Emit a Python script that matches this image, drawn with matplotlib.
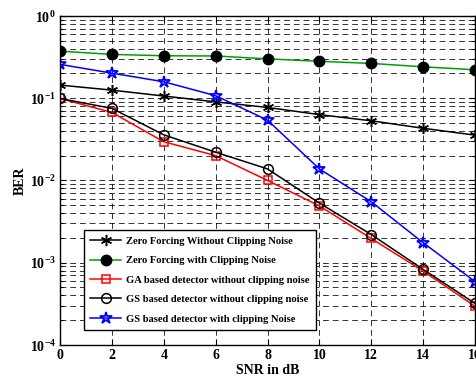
import matplotlib
matplotlib.use('agg')
import matplotlib.pyplot as plt
import numpy as np

plt.rcParams['font.family'] = 'Liberation Serif'
plt.rcParams['font.weight'] = 'bold'
plt.rcParams['mathtext.fontset'] = 'custom'
plt.rcParams['mathtext.rm'] = 'Liberation Serif:bold'
plt.rcParams['mathtext.bf'] = 'Liberation Serif:bold'

snr = [0, 2, 4, 6, 8, 10, 12, 14, 16]
zf_no_clip = [0.144, 0.125, 0.106, 0.090, 0.077, 0.063, 0.053, 0.043, 0.0355]
zf_clip = [0.372, 0.340, 0.327, 0.325, 0.300, 0.280, 0.264, 0.240, 0.221]
ga_no_clip = [0.099, 0.067, 0.0295, 0.020, 0.0100, 0.0049, 0.00197, 0.00079, 0.000296]
gs_no_clip = [0.099, 0.075, 0.0358, 0.022, 0.0138, 0.0053, 0.0022, 0.00083, 0.00032]
gs_clip = [0.257, 0.201, 0.158, 0.107, 0.054, 0.0138, 0.0055, 0.00175, 0.00059]

fig = plt.figure(figsize=(4.77, 3.81), dpi=100)
ax = fig.add_axes([0.1258, 0.0945, 0.870, 0.864])

# asterisk marker like matlab '*'
ast = (6, 2, 0)
ax.semilogy(snr, zf_no_clip, 'k-', marker=ast, lw=1.1, ms=8, mew=1.1,
            label='Zero Forcing Without Clipping Noise')
ax.semilogy(snr, zf_clip, '-o', color='#00a000', mfc='k', mec='k', lw=1.1, ms=7.5,
            label='Zero Forcing with Clipping Noise')
ax.semilogy(snr, ga_no_clip, 'r-s', mfc='none', lw=1.1, ms=6, mew=1.1,
            label='GA based detector without clipping noise')
ax.semilogy(snr, gs_no_clip, 'k-o', mfc='none', lw=1.1, ms=7, mew=1.1,
            label='GS based detector without clipping noise')
ax.semilogy(snr, gs_clip, 'b-*', mfc='none', lw=1.1, ms=9, mew=1.3,
            label='GS based detector with clipping Noise')

ax.set_xlim(0, 16)
ax.set_ylim(1e-4, 1)
ax.set_xticks(snr)
ax.set_xticklabels([str(s) for s in snr], fontsize=10, fontweight='bold')
ax.set_yticks([1e-4, 1e-3, 1e-2, 1e-1, 1])
ax.set_yticklabels([r'$10^{-4}$', r'$10^{-3}$', r'$10^{-2}$', r'$10^{-1}$', r'$10^{0}$'], fontsize=10)
ax.tick_params(which='both', direction='in', top=True, right=True, width=0.8)
ax.tick_params(which='major', length=4, pad=3)
ax.tick_params(which='minor', length=2)
ax.grid(True, which='major', linestyle=(0, (6, 4)), color='k', lw=0.7, alpha=0.8)
ax.grid(True, which='minor', axis='y', linestyle=(0, (6, 4)), color='k', lw=0.7, alpha=0.8)
for s in ax.spines.values():
    s.set_linewidth(1.0)

ax.set_xlabel('SNR in dB', fontsize=10, fontweight='bold', labelpad=1)
ax.set_ylabel('BER', fontsize=10, fontweight='bold', labelpad=2)

leg = ax.legend(loc='lower left', bbox_to_anchor=(0.045, 0.03), prop={'weight': 'bold', 'size': 7.6},
                fancybox=False, framealpha=1, edgecolor='k', handlelength=2.9, borderpad=0.6,
                labelspacing=0.95, handletextpad=0.5)
leg.get_frame().set_linewidth(1.0)

plt.savefig('out.png', dpi=100)
